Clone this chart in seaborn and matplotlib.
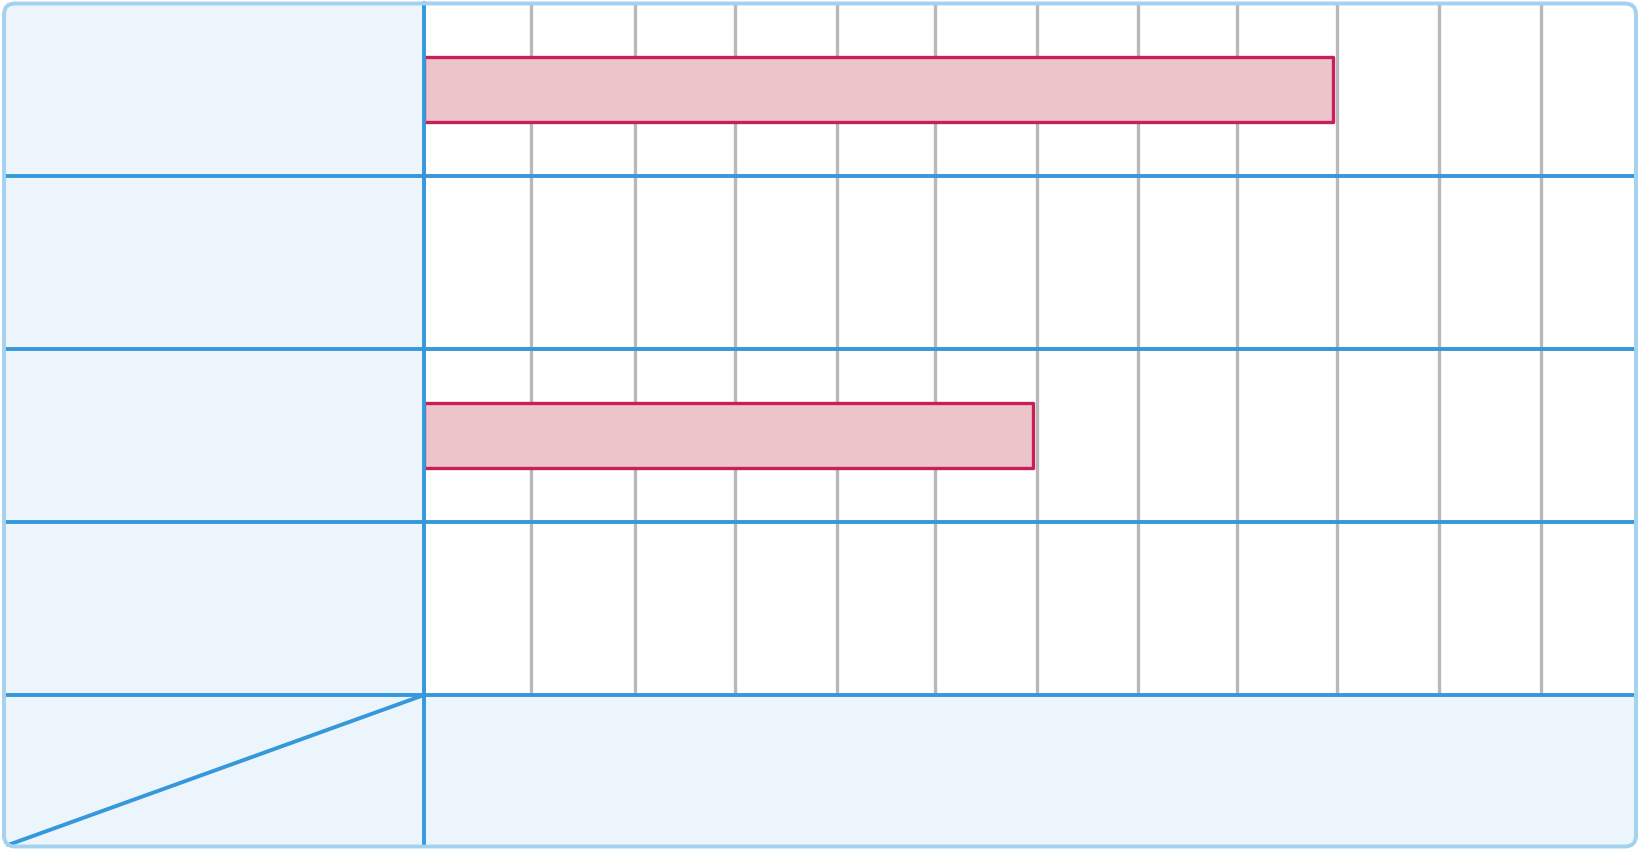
import numpy as np
import pandas as pd
import matplotlib
matplotlib.use('Agg')
import matplotlib.pyplot as plt
from matplotlib.patches import FancyBboxPatch, Rectangle
import seaborn as sns

# Rows of the gantt-like table (two of them carry a bar)
ROW_ORDER = ['Row 1', 'Row 2', 'Row 3', 'Row 4']
BAR_ROWS = ['Row 1', 'Row 3']
BAR_ENDS = [9.0, 6.03]
# Grid ticks on the time axis
TICKS = [1.06, 2.09, 3.08, 4.09, 5.06, 6.07, 7.07, 8.05, 9.04, 10.05, 11.06]
X_MAX = 12.0

BLUE = '#3498db'
BORDER = '#a3d2f0'
PALE = '#edf5fc'
GRID = '#b8b8b8'
BAR_FILL = '#ebc5c9'
BAR_EDGE = '#c81e5a'

W, H = 1640, 850
# plot area in pixels
PX_L, PX_R, PX_T, PX_B = 424, 1636, 3, 695
LW_BLUE = 2.8
LW_GRID = 2.4

sns.set_theme(style='white')

fig = plt.figure(figsize=(W / 100, H / 100), dpi=100)

# background layer: pale header column and footer row
bg = fig.add_axes([0, 0, 1, 1])
bg.set_xlim(0, W)
bg.set_ylim(H, 0)
bg.axis('off')
bg.add_patch(FancyBboxPatch((4, 3.5), W - 8, H - 7,
                            boxstyle='round,pad=0,rounding_size=11',
                            facecolor=PALE, edgecolor='none'))
bg.add_patch(Rectangle((PX_L, PX_T), PX_R - PX_L, PX_B - PX_T,
                       facecolor='white', edgecolor='none'))
bg.plot([8, PX_L], [845, PX_B], color=BLUE, linewidth=LW_BLUE,
        solid_capstyle='round')

ax = fig.add_axes([PX_L / W, (H - PX_B) / H, (PX_R - PX_L) / W, (PX_B - PX_T) / H])
ax.set_facecolor('none')

df = pd.DataFrame({'row': BAR_ROWS, 'end': BAR_ENDS})
sns.barplot(data=df, x='end', y='row', order=ROW_ORDER, ax=ax,
            color=BAR_FILL, saturation=1, errorbar=None, width=0.375,
            edgecolor=BAR_EDGE, linewidth=LW_GRID)
for p in ax.patches:
    p.set_joinstyle('round')

ax.set_xlim(0, X_MAX)
ax.set_ylim(len(ROW_ORDER) - 0.5, -0.5)
ax.set_xticks(TICKS)
ax.set_xticklabels([])
ax.set_yticks([])
ax.set_xlabel('')
ax.set_ylabel('')
ax.tick_params(length=0)
ax.grid(axis='x', color=GRID, linewidth=LW_GRID, zorder=0)
ax.set_axisbelow(True)
for s in ax.spines.values():
    s.set_visible(False)

# row separators run across the header column as well
ext_left = -(PX_L - 5) / (PX_R - PX_L)
for i in range(len(ROW_ORDER)):
    ax.axhline(i + 0.5, xmin=ext_left, xmax=1, color=BLUE, linewidth=LW_BLUE,
               clip_on=False, zorder=4)
# column divider runs down into the footer row
ax.axvline(0, ymin=-(846 - PX_B) / (PX_B - PX_T), ymax=1, color=BLUE,
           linewidth=LW_BLUE, clip_on=False, zorder=5)

# rounded outer frame drawn on top of everything
top = fig.add_axes([0, 0, 1, 1])
top.set_xlim(0, W)
top.set_ylim(H, 0)
top.axis('off')
top.patch.set_alpha(0)
top.add_patch(FancyBboxPatch((4, 3.5), W - 8, H - 7,
                             boxstyle='round,pad=0,rounding_size=11',
                             facecolor='none', edgecolor=BORDER, linewidth=2.8))

fig.savefig('out.png', dpi=100)
